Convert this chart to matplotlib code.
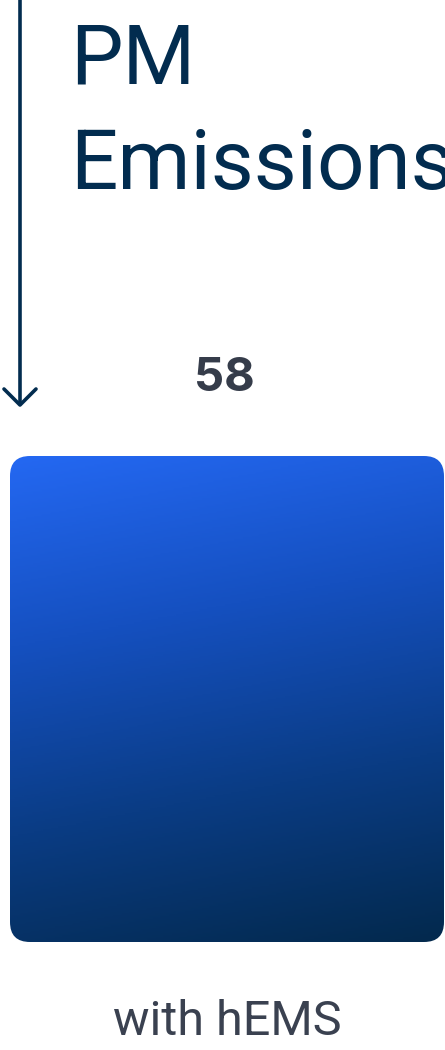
import numpy as np
import matplotlib
matplotlib.use('Agg')
import matplotlib.pyplot as plt
from matplotlib.colors import LinearSegmentedColormap
from matplotlib.patches import FancyBboxPatch
from matplotlib.transforms import IdentityTransform

# Chart data
title_lines = ["PM", "Emissions"]
categories = ["with hEMS"]
values = [58]

W, H = 445, 1050
NAVY = '#022c4f'
LABEL_GRAY = '#353c4a'
CAT_GRAY = '#3a4150'

plt.rcParams['font.family'] = ['Roboto', 'DejaVu Sans']

fig = plt.figure(figsize=(W / 100, H / 100), dpi=100)
fig.patch.set_facecolor('white')

# Overlay axes in pixel coordinates for the title and the arrow
ov = fig.add_axes([0, 0, 1, 1])
ov.set_xlim(0, W)
ov.set_ylim(H, 0)
ov.axis('off')

ov.text(70, 83, title_lines[0], fontsize=60, color=NAVY, va='baseline', ha='left')
ov.text(70, 189, title_lines[1], fontsize=60, color=NAVY, va='baseline', ha='left')

# Arrow down the left side
ov.plot([20, 20], [-5, 404], color=NAVY, lw=2.6, solid_capstyle='round')
ov.plot([4, 20, 36], [389, 405, 389], color=NAVY, lw=2.6,
        solid_capstyle='round', solid_joinstyle='round')

# Bar axes
bar_left, bar_right = 10, 444
bar_top, bar_bottom = 456, 942
ax = fig.add_axes([bar_left / W, (H - bar_bottom) / H,
                   (bar_right - bar_left) / W, (bar_bottom - bar_top) / H])
ax.set_xlim(-0.5, len(categories) - 0.5)
ax.set_ylim(0, max(values))
ax.axis('off')

bars = ax.bar(range(len(categories)), values, width=1.0, color='none')

grad = LinearSegmentedColormap.from_list(
    'blue_navy', ['#2468f2', '#1550c0', '#0a3c84', '#03294d'])

for bar, val, cat in zip(bars, values, categories):
    x0, y0 = bar.get_x(), bar.get_y()
    x1, y1 = x0 + bar.get_width(), y0 + bar.get_height()
    # rounded clip shape in display pixels
    (px0, py0), (px1, py1) = ax.transData.transform([(x0, y0), (x1, y1)])
    clip = FancyBboxPatch((px0, py0), px1 - px0, py1 - py0,
                          boxstyle='round,pad=0,rounding_size=20',
                          transform=IdentityTransform(),
                          facecolor='none', edgecolor='none')
    fig.add_artist(clip)

    # diagonal gradient: top-left light blue to bottom-right navy
    n = 300
    yy, xx = np.mgrid[0:1:n * 1j, 0:1:n * 1j]
    t = 0.85 * yy + 0.15 * xx
    t = t / t.max()
    ax.imshow(t, cmap=grad, extent=(x0, x1, y0, y1), origin='upper',
              aspect='auto', clip_path=clip, interpolation='bilinear', zorder=2)

    ax.annotate(f'{val}', xy=(bar.get_x() + bar.get_width() / 2, y1),
                xytext=(-2, 47), textcoords='offset points',
                ha='center', va='baseline', fontsize=34, fontweight='bold',
                color=LABEL_GRAY, annotation_clip=False, family=['Inter', 'DejaVu Sans'])
    ax.annotate(cat, xy=(bar.get_x() + bar.get_width() / 2, y0),
                xytext=(0, -67), textcoords='offset points',
                ha='center', va='baseline', fontsize=35,
                color=CAT_GRAY, annotation_clip=False)

ax.set_xlim(-0.5, len(categories) - 0.5)
ax.set_ylim(0, max(values))

fig.savefig('out.png', dpi=100)
plt.close(fig)
